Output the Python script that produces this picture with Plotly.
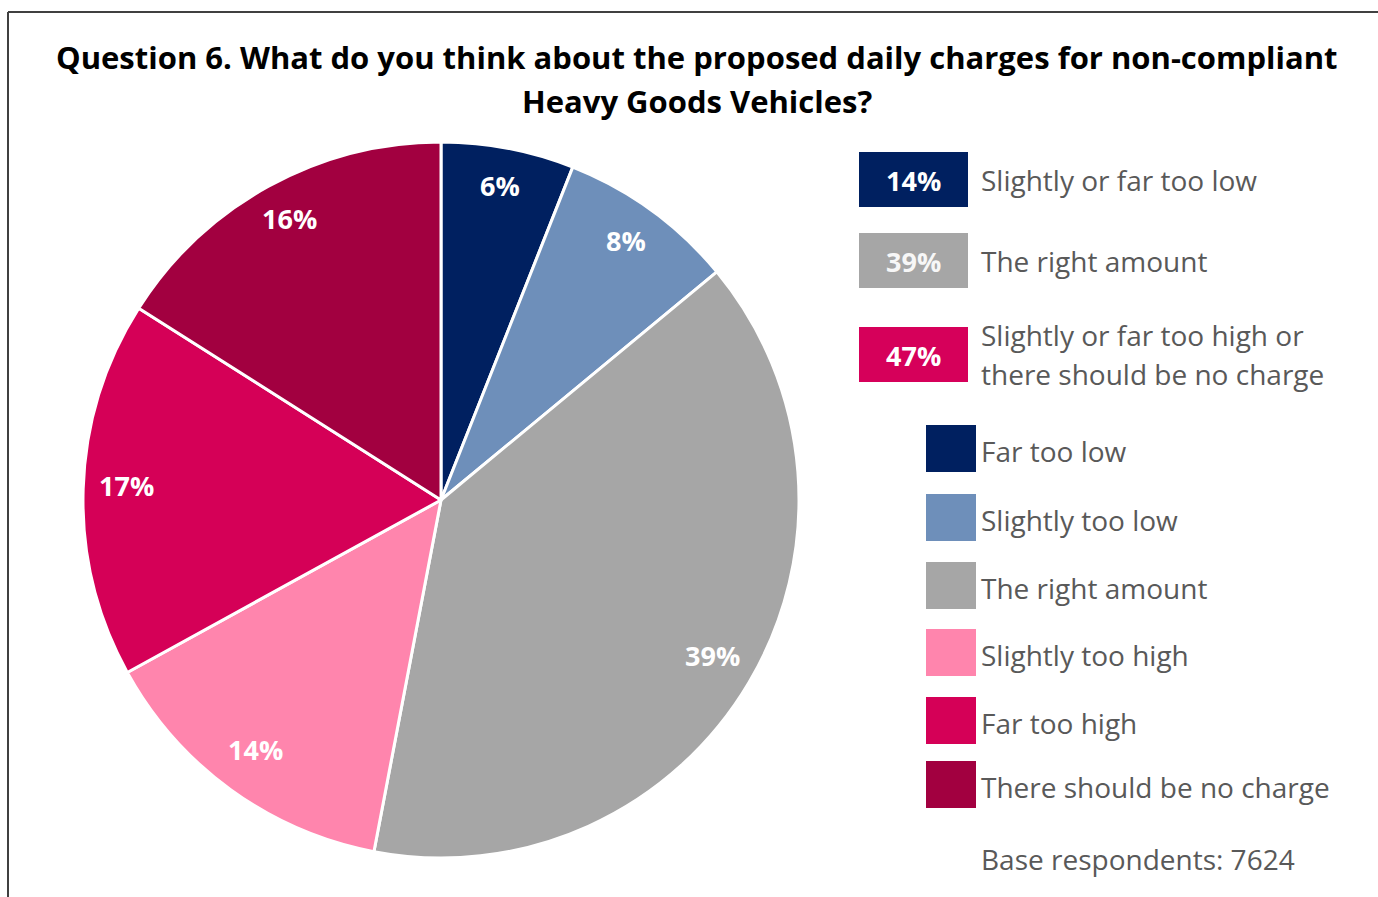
import math
import plotly.graph_objects as go

# Survey responses (percent of respondents)
categories = ["Far too low", "Slightly too low", "The right amount",
              "Slightly too high", "Far too high", "There should be no charge"]
values = [6, 8, 39, 14, 17, 16]
colors = ["#002060", "#6E8FBA", "#A6A6A6", "#FF85AD", "#D50057", "#A20040"]

# Grouped summary
group_labels = [["Slightly or far too low"], ["The right amount"],
                ["Slightly or far too high or", "there should be no charge"]]
group_values = [14, 39, 47]
group_colors = ["#002060", "#A6A6A6", "#D6005A"]

base_respondents = 7624
title_lines = ["Question 6. What do you think about the proposed daily charges for non-compliant",
               "Heavy Goods Vehicles?"]

W, H = 1378, 897
FONT = "Open Sans"
TEXT_GREY = "#595959"

# Pie geometry in pixels
cx, cy, r = 441, 500, 356
r_dom = r + 2  # small allowance for the slice outline


def px(x):
    return x / W


def py(y):
    return 1 - y / H


fig = go.Figure()
fig.add_trace(go.Pie(
    labels=categories,
    values=values,
    marker=dict(colors=colors, line=dict(color="white", width=3)),
    sort=False,
    direction="clockwise",
    rotation=0,
    textinfo="none",
    hoverinfo="label+percent",
    showlegend=False,
    domain=dict(x=[px(cx - r_dom), px(cx + r_dom)], y=[py(cy + r_dom), py(cy - r_dom)]),
))

annotations = []
shapes = []

# Slice value labels placed along the mid-angle of each slice
total = sum(values)
cum = 0
for v in values:
    theta = math.radians((cum + v / 2) / total * 360)
    cum += v
    lx = cx + 0.885 * r * math.sin(theta)
    ly = cy - 0.885 * r * math.cos(theta) - 5
    annotations.append(dict(
        x=px(lx), y=py(ly), xref="paper", yref="paper",
        text=f"<b>{v}%</b>", showarrow=False,
        font=dict(family=FONT, size=27, color="white"),
        xanchor="center", yanchor="middle"))

# Title, one annotation per line
for line, ty in zip(title_lines, [57, 101]):
    annotations.append(dict(
        x=px(697), y=py(ty), xref="paper", yref="paper",
        text=f"<b>{line}</b>", showarrow=False,
        font=dict(family=FONT, size=31, color="black"),
        xanchor="center", yanchor="middle"))

# Grouped summary boxes
group_rows = [(152, 207), (233, 288), (327, 382)]
for (y0, y1), lab, val, col in zip(group_rows, group_labels, group_values, group_colors):
    shapes.append(dict(type="rect", xref="paper", yref="paper",
                       x0=px(859), x1=px(968), y0=py(y1), y1=py(y0),
                       fillcolor=col, line=dict(width=0)))
    ym = (y0 + y1) / 2
    annotations.append(dict(
        x=px(913.5), y=py(ym + 1), xref="paper", yref="paper",
        text=f"<b>{val}%</b>", showarrow=False,
        font=dict(family=FONT, size=27, color="#F7F7F7" if col == "#A6A6A6" else "white"),
        xanchor="center", yanchor="middle"))
    n = len(lab)
    for i, part in enumerate(lab):
        annotations.append(dict(
            x=px(979), y=py(ym + (i - (n - 1) / 2) * 39), xref="paper", yref="paper",
            text=part, showarrow=False,
            font=dict(family=FONT, size=28, color=TEXT_GREY),
            xanchor="left", yanchor="middle"))

# Category key
key_rows = [425, 494, 562, 629, 697, 761]
for y0, lab, col in zip(key_rows, categories, colors):
    shapes.append(dict(type="rect", xref="paper", yref="paper",
                       x0=px(926), x1=px(976), y0=py(y0 + 47), y1=py(y0),
                       fillcolor=col, line=dict(width=0)))
    annotations.append(dict(
        x=px(979), y=py(y0 + 26), xref="paper", yref="paper",
        text=lab, showarrow=False,
        font=dict(family=FONT, size=28, color=TEXT_GREY),
        xanchor="left", yanchor="middle"))

annotations.append(dict(
    x=px(979), y=py(859), xref="paper", yref="paper",
    text=f"Base respondents: {base_respondents}", showarrow=False,
    font=dict(family=FONT, size=28, color=TEXT_GREY),
    xanchor="left", yanchor="middle"))

# Chart frame (left and top edges)
shapes.append(dict(type="line", xref="paper", yref="paper",
                   x0=px(8), x1=px(8), y0=0, y1=py(12),
                   line=dict(color="#404040", width=2)))
shapes.append(dict(type="line", xref="paper", yref="paper",
                   x0=px(8), x1=1, y0=py(12), y1=py(12),
                   line=dict(color="#404040", width=2)))

fig.update_layout(
    width=W, height=H,
    margin=dict(l=0, r=0, t=0, b=0),
    paper_bgcolor="white", plot_bgcolor="white",
    annotations=annotations, shapes=shapes,
    showlegend=False,
)

fig.write_html("out.html")
